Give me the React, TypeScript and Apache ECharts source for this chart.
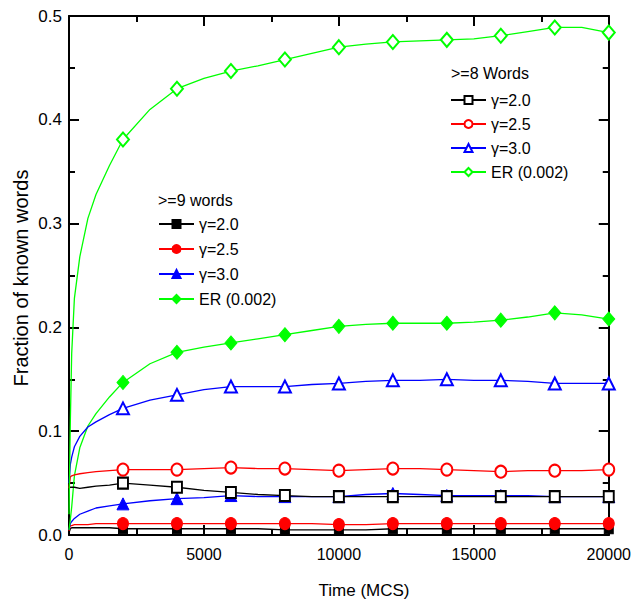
import React, { useEffect, useRef } from "react";
import * as echarts from "echarts";

// Time axis (MCS)
const T = [0, 50, 100, 200, 400, 700, 1000, 1500, 2000, 3000, 4000, 5000, 6000, 7000, 8000, 9000, 10000, 11000, 12000, 13000, 14000, 15000, 16000, 17000, 18000, 19000, 20000];

// >=8 words
const K8 = [0.045, 0.046, 0.046, 0.046, 0.045, 0.046, 0.047, 0.048, 0.050, 0.048, 0.046, 0.043, 0.041, 0.039, 0.038, 0.037, 0.037, 0.037, 0.037, 0.037, 0.037, 0.037, 0.037, 0.037, 0.037, 0.037, 0.037];
const R8 = [0.045, 0.056, 0.057, 0.058, 0.059, 0.060, 0.061, 0.062, 0.063, 0.063, 0.063, 0.064, 0.065, 0.064, 0.064, 0.063, 0.062, 0.063, 0.064, 0.064, 0.063, 0.062, 0.061, 0.062, 0.062, 0.062, 0.063];
const B8 = [0.050, 0.068, 0.075, 0.085, 0.095, 0.104, 0.109, 0.116, 0.122, 0.130, 0.135, 0.140, 0.143, 0.143, 0.143, 0.145, 0.146, 0.148, 0.149, 0.149, 0.150, 0.149, 0.149, 0.148, 0.146, 0.146, 0.146];
const G8 = [0.020, 0.110, 0.175, 0.228, 0.268, 0.305, 0.328, 0.356, 0.381, 0.410, 0.430, 0.440, 0.447, 0.452, 0.458, 0.464, 0.470, 0.473, 0.475, 0.476, 0.477, 0.478, 0.481, 0.485, 0.489, 0.489, 0.484];

// >=9 words
const K9 = [0.002, 0.006, 0.007, 0.007, 0.007, 0.007, 0.007, 0.007, 0.006, 0.006, 0.006, 0.006, 0.006, 0.006, 0.005, 0.005, 0.005, 0.005, 0.006, 0.006, 0.006, 0.006, 0.006, 0.006, 0.006, 0.006, 0.006];
const R9 = [0.004, 0.009, 0.009, 0.010, 0.010, 0.010, 0.011, 0.011, 0.011, 0.011, 0.011, 0.011, 0.011, 0.011, 0.011, 0.011, 0.010, 0.010, 0.011, 0.011, 0.011, 0.011, 0.011, 0.011, 0.011, 0.011, 0.011];
const B9 = [0.005, 0.011, 0.013, 0.016, 0.020, 0.023, 0.026, 0.028, 0.030, 0.033, 0.035, 0.036, 0.038, 0.037, 0.037, 0.037, 0.037, 0.039, 0.040, 0.039, 0.038, 0.038, 0.038, 0.038, 0.037, 0.037, 0.037];
const G9 = [0.005, 0.015, 0.027, 0.057, 0.084, 0.105, 0.117, 0.133, 0.147, 0.165, 0.176, 0.181, 0.185, 0.189, 0.193, 0.197, 0.201, 0.203, 0.204, 0.204, 0.204, 0.205, 0.207, 0.210, 0.214, 0.212, 0.208];

const MARK_STEP = 2000;
const X_TICKS = [0, 5000, 10000, 15000, 20000];
const Y_TICKS = [0.0, 0.1, 0.2, 0.3, 0.4, 0.5];

const LABELS: Record<string, string> = {
  k8: "γ=2.0", r8: "γ=2.5", b8: "γ=3.0", g8: "ER (0.002)",
  k9: "γ=2.0", r9: "γ=2.5", b9: "γ=3.0", g9: "ER (0.002)",
};

const FONT = "Liberation Sans, Arial, sans-serif";

function mk(name: string, vals: number[], color: string, symbol: string, size: number | number[]) {
  return {
    name,
    type: "line",
    symbol,
    symbolSize: size,
    showSymbol: true,
    color,
    lineStyle: { color, width: 1.3 },
    itemStyle: { color, borderColor: color, borderWidth: 1 },
    emphasis: { disabled: true },
    data: T.map((t, i) => {
      const isMark = t > 0 && t % MARK_STEP === 0;
      return isMark ? { value: [t, vals[i]] } : { value: [t, vals[i]], symbol: "none" };
    }),
  };
}

function mkAx(pos: string, extra: any) {
  return {
    type: "value",
    position: pos,
    axisLine: { show: true, onZero: false, lineStyle: { color: "#000", width: 2 } },
    axisTick: { show: true, inside: true, length: 10, lineStyle: { color: "#000", width: 2 } },
    minorTick: { show: true, splitNumber: 2, length: 6, lineStyle: { color: "#000", width: 2 } },
    splitLine: { show: false },
    ...extra,
  };
}

export default function App() {
  const ref = useRef<HTMLDivElement>(null);
  useEffect(() => {
    document.body.style.margin = "0";
    const chart = echarts.init(ref.current!, undefined, { renderer: "svg" });
    const xr = { min: X_TICKS[0], max: X_TICKS[X_TICKS.length - 1], interval: 5000 };
    const yr = { min: Y_TICKS[0], max: Y_TICKS[Y_TICKS.length - 1], interval: 0.1 };
    chart.setOption({
      animation: false,
      backgroundColor: "#fff",
      grid: { left: 69, right: 23, top: 16, bottom: 70 },
      xAxis: [
        mkAx("bottom", { ...xr, axisLabel: { show: true, color: "#000", fontSize: 16, fontFamily: FONT, margin: 11, formatter: (v: number) => String(v) } }),
        mkAx("top", { ...xr, axisLabel: { show: false } }),
      ],
      yAxis: [
        mkAx("left", { ...yr, axisLabel: { show: true, color: "#000", fontSize: 17, fontFamily: FONT, margin: 7, formatter: (v: number) => v.toFixed(1) } }),
        mkAx("right", { ...yr, axisLabel: { show: false } }),
      ],
      legend: [
        {
          left: 450, top: 92, padding: 0, orient: "vertical", selectedMode: false,
          data: ["k8", "r8", "b8", "g8"],
          itemWidth: 35, itemHeight: 10, itemGap: 8,
          formatter: (n: string) => LABELS[n],
          textStyle: { color: "#000", fontSize: 16, fontFamily: FONT },
        },
        {
          left: 158, top: 216, padding: 0, orient: "vertical", selectedMode: false,
          data: ["k9", "r9", "b9", "g9"],
          itemWidth: 35, itemHeight: 10, itemGap: 9,
          formatter: (n: string) => LABELS[n],
          textStyle: { color: "#000", fontSize: 16, fontFamily: FONT },
        },
      ],
      graphic: [
        { type: "text", left: 451, top: 65, style: { text: ">=8 Words", fontSize: 16, fill: "#000", fontFamily: FONT } },
        { type: "text", left: 158, top: 192, style: { text: ">=9 words", fontSize: 16, fill: "#000", fontFamily: FONT } },
        {
          type: "text", x: 364, y: 590,
          style: { text: "Time (MCS)", fontSize: 17, fill: "#000", fontFamily: FONT, align: "center", verticalAlign: "middle" },
        },
        {
          type: "text", x: 21, y: 278, rotation: Math.PI / 2,
          style: { text: "Fraction of known words", fontSize: 20, fill: "#000", fontFamily: FONT, align: "center", verticalAlign: "middle" },
        },
      ],
      series: [
        mk("k9", K9, "#000000", "rect", [9, 10]),
        mk("r9", R9, "#ff0000", "circle", [11, 12]),
        mk("b9", B9, "#0000ff", "triangle", [12, 12]),
        mk("g9", G9, "#00ff00", "diamond", [12, 14]),
        mk("k8", K8, "#000000", "emptyRect", [10, 11]),
        mk("r8", R8, "#ff0000", "emptyCircle", [11, 12]),
        mk("b8", B8, "#0000ff", "emptyTriangle", [12, 12]),
        mk("g8", G8, "#00ff00", "emptyDiamond", [12, 14]),
      ],
    });
    return () => chart.dispose();
  }, []);
  return <div ref={ref} style={{ width: 634, height: 605 }} />;
}
